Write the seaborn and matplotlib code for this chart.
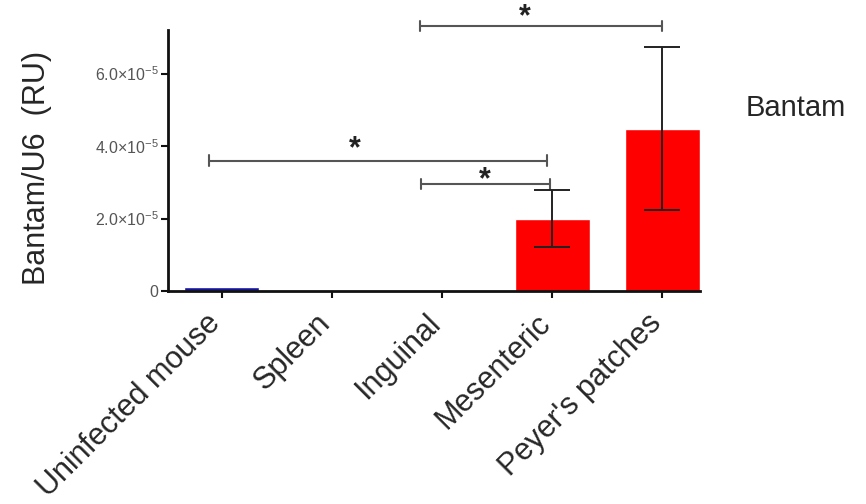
import matplotlib
matplotlib.use('Agg')
import pandas as pd
import matplotlib.pyplot as plt
import seaborn as sns
import numpy as np

# values
groups = ["Uninfected mouse", "Spleen", "Inguinal", "Mesenteric", "Peyer's patches"]
means = [0.1e-5, 0.0, 0.0, 2.0e-5, 4.48e-5]
errs = [0.0, 0.0, 0.0, 0.78e-5, 2.25e-5]
colors = ["#1414a0", "#b0b0b0", "#b0b0b0", "#ff0000", "#ff0000"]

# significance brackets: (x start, x end, y)
brackets = [(1.8, 4.0, 7.31e-5), (-0.11, 2.95, 3.6e-5), (1.81, 2.98, 2.95e-5)]
star_x = [2.75, 1.21, 2.39]
star_off = [6, 8, 3]  # points above the bracket line

yticks = [0, 2e-5, 4e-5, 6e-5]
ytick_labels = ["0", r"$2.0{\times}10^{-5}$", r"$4.0{\times}10^{-5}$", r"$6.0{\times}10^{-5}$"]

sns.set_style("ticks")
plt.rcParams['font.family'] = ['Liberation Sans', 'DejaVu Sans']
plt.rcParams['mathtext.default'] = 'regular'

df = pd.DataFrame({"group": groups, "value": means})

fig = plt.figure(figsize=(8.66, 5.04), dpi=100)
ax = fig.add_axes([0.194, 0.4226, 0.614, 0.5178])

sns.barplot(data=df, x="group", y="value", hue="group", palette=colors,
            width=0.68, legend=False, ax=ax, saturation=1)
for p in ax.patches[1:3]:
    p.set_edgecolor("#c8c8c8")
    p.set_linewidth(0.8)

xs = np.arange(len(groups))
ax.errorbar(xs[3:], means[3:], yerr=errs[3:], fmt='none', ecolor='#222222',
            elinewidth=1.4, capsize=13, capthick=1.4, zorder=5)

for (x0, x1, y), sx, off in zip(brackets, star_x, star_off):
    ax.plot([x0, x1], [y, y], color='#555555', lw=1.5, clip_on=False)
    for xe in (x0, x1):
        ax.plot([xe, xe], [y - 0.14e-5, y + 0.14e-5], color='#555555', lw=1.5, clip_on=False)
    ax.annotate("*", xy=(sx, y), xytext=(0, off), textcoords='offset points',
                ha='center', va='center', fontsize=22, fontweight='bold',
                color='#222222', annotation_clip=False)

ax.set_xlim(-0.486, 4.34)
ax.set_ylim(0, 7.2e-5)
ax.set_yticks(yticks)
ax.set_yticklabels(ytick_labels, fontsize=11.5, color='#555555')
ax.set_xticks(xs)
ax.set_xticklabels(groups, rotation=45, ha='right', va='baseline',
                   rotation_mode='anchor', fontsize=22)
ax.set_xlabel("")
ax.set_ylabel("Bantam/U6  (RU)", fontsize=22)
ax.yaxis.set_label_coords(-0.218, 0.47)

for s in ('top', 'right'):
    ax.spines[s].set_visible(False)
for s in ('left', 'bottom'):
    ax.spines[s].set_linewidth(2)
    ax.spines[s].set_color('#111111')
ax.tick_params(axis='both', direction='out', length=5, width=1.5, color='#111111')
ax.tick_params(axis='y', pad=2)
ax.tick_params(axis='x', pad=19)

fig.text(0.861, 0.786, "Bantam", fontsize=21, ha='left', va='center')

fig.savefig("out.png", dpi=100)
